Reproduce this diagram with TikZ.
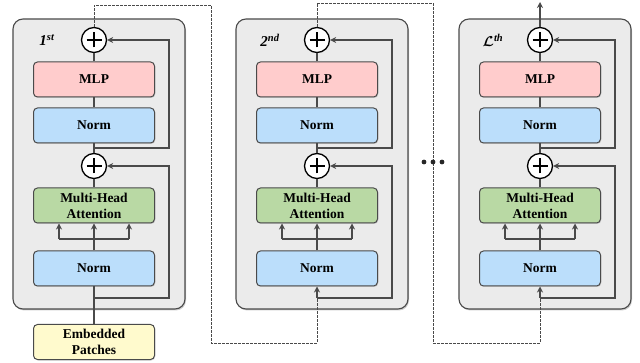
\documentclass[tikz,border=0pt]{standalone}
\usepackage{fontspec}
\setmainfont{Liberation Serif}
\usepackage{bm}
\usetikzlibrary{shadows,arrows.meta,calc}
\definecolor{outerfill}{HTML}{EBEBEB}
\definecolor{edgec}{HTML}{4A4A4A}
\definecolor{mlpc}{HTML}{FFCCCC}
\definecolor{normc}{HTML}{BBDEFB}
\definecolor{mhac}{HTML}{B9D9A4}
\definecolor{embc}{HTML}{FFFACD}
\tikzset{
 outerbox/.style={draw=edgec, line width=1.1pt, fill=outerfill, rounded corners=10pt, minimum width=172pt, minimum height=290pt, inner sep=0pt,
   drop shadow={shadow xshift=1pt,shadow yshift=-1.5pt,opacity=0.4}},
 layerbox/.style={draw=edgec, line width=1pt, rounded corners=4pt, minimum width=121pt, minimum height=35pt, inner sep=0pt,
   font=\bfseries\fontsize{13.5}{16}\selectfont, align=center,
   drop shadow={shadow xshift=0.8pt,shadow yshift=-1pt,opacity=0.3}},
 plusnode/.style={circle, draw=black, line width=1.3pt, fill=white, minimum size=25pt, inner sep=0pt,
   path picture={\draw[line width=2pt]
     ([xshift=-7.5pt]path picture bounding box.center) -- ([xshift=7.5pt]path picture bounding box.center)
     ([yshift=-7.5pt]path picture bounding box.center) -- ([yshift=7.5pt]path picture bounding box.center);}},
 flow/.style={draw=edgec, line width=1.1pt},
 arr/.style={flow, -{Stealth[length=6pt,width=6pt]}},
 dashflow/.style={draw=edgec, line width=0.9pt, dash pattern=on 2.5pt off 1.5pt},
 blocklabel/.style={font=\bfseries\itshape\fontsize{15}{17}\selectfont, inner sep=0pt},
}
\begin{document}
\begin{tikzpicture}[x=1pt,y=-1pt]
\useasboundingbox (0,0) rectangle (640,363);
\foreach \i/\cx/\lab in {1/94/{1\textsuperscript{st}}, 2/317/{2\textsuperscript{nd}}, 3/540/{$\bm{\mathcal{L}}$\textsuperscript{th}}}{
  \node[outerbox] (b\i) at (\cx+5,164) {};
  \node[blocklabel] (b\i-lab) at (\cx-47,40) {\lab};
  \node[plusnode] (b\i-plusA) at (\cx,40) {};
  \node[layerbox, fill=mlpc] (b\i-mlp) at (\cx,79.5) {MLP};
  \node[layerbox, fill=normc] (b\i-normA) at (\cx,125.5) {Norm};
  \node[plusnode] (b\i-plusB) at (\cx,166) {};
  \node[layerbox, fill=mhac] (b\i-mha) at (\cx,205.5) {Multi-Head\\Attention};
  \node[layerbox, fill=normc] (b\i-normB) at (\cx,268.5) {Norm};
  \coordinate (b\i-rA) at (\cx,148);
  \coordinate (b\i-rAc) at (\cx+75,148);
  \coordinate (b\i-rB) at (\cx,298);
  \coordinate (b\i-rBc) at (\cx+75,298);
  \coordinate (b\i-hL) at (\cx-35,239);
  \coordinate (b\i-hR) at (\cx+35,239);
  \draw[flow] (b\i-mlp.north) -- (b\i-plusA.south);
  \draw[flow] (b\i-normA.north) -- (b\i-mlp.south);
  \draw[flow] (b\i-plusB.north) -- (b\i-normA.south);
  \draw[flow] (b\i-mha.north) -- (b\i-plusB.south);
  \draw[arr] (b\i-normB.north) -- (b\i-mha.south);
  \draw[flow] (b\i-hL) -- (b\i-hR);
  \draw[arr] (b\i-hL) -- (b\i-hL |- b\i-mha.south);
  \draw[arr] (b\i-hR) -- (b\i-hR |- b\i-mha.south);
  \draw[arr] (b\i-rA) -- (b\i-rAc) |- (b\i-plusA.east);
  \draw[arr] (b\i-rB) -- (b\i-rBc) |- (b\i-plusB.east);
}
\node[layerbox, fill=embc] (emb) at (94,342) {Embedded\\Patches};
\draw[flow] (emb.north) -- (b1-normB.south);
\draw[arr] (b2-rB) -- (b2-normB.south);
\draw[arr] (b3-rB) -- (b3-normB.south);
% dashed links
\coordinate (d1a) at (94,5);
\coordinate (d1b) at (211,5);
\coordinate (d1c) at (211,343);
\coordinate (d1d) at (317,343);
\draw[dashflow] (b1-plusA.north) -- (d1a) -- (d1b) -- (d1c) -- (d1d) -- (b2-rB);
\coordinate (d2a) at (317,3);
\coordinate (d2b) at (433,3);
\coordinate (d2c) at (433,343);
\coordinate (d2d) at (540,343);
\draw[dashflow] (b2-plusA.north) -- (d2a) -- (d2b) -- (d2c) -- (d2d) -- (b3-rB);
% output
\coordinate (out) at (540,2);
\draw[arr] (b3-plusA.north) -- (out);
% dots
\foreach \dx in {424,433,442}{\fill[black!85] (\dx,162) circle (2.4pt);}
\end{tikzpicture}
\end{document}
